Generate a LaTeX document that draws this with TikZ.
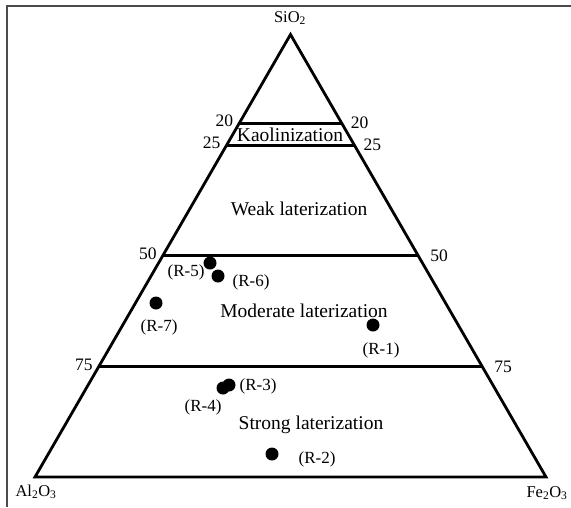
\documentclass[tikz,border=0pt]{standalone}
\usepackage{fontspec}
\setmainfont{Liberation Serif}
\usetikzlibrary{calc}

\begin{document}
\begin{tikzpicture}[x=1pt, y=-1pt,
  side/.style={line width=2.8pt, line join=miter},
  zoneline/.style={line width=3pt},
  frame/.style={line width=2pt, black!70},
  zone/.style={font=\fontsize{19.5}{20}\selectfont, inner sep=0pt},
  tick/.style={font=\fontsize{17.5}{18}\selectfont, inner sep=0pt},
  corner/.style={font=\fontsize{16.5}{17}\selectfont, inner sep=0pt},
  sample/.style={circle, fill, inner sep=0pt, minimum size=13pt},
  tag/.style={font=\fontsize{17}{17}\selectfont, inner sep=0pt}]
\useasboundingbox (0,0) rectangle (571,507);
\fill[white] (0,0) rectangle (571,507);
\draw[frame] (6.5,507) -- (6.5,6) -- (571,6);

% ternary frame
\coordinate (si) at (290.5,34.5);
\coordinate (al) at (35,477);
\coordinate (fe) at (546,477);
\draw[side] (al) -- (si) -- (fe) -- cycle;
\node[corner] (siL) at (290,18) {SiO\textsubscript{2}};
\node[corner] (alL) at (36,492) {Al\textsubscript{2}O\textsubscript{3}};
\node[corner] (feL) at (547,493) {Fe\textsubscript{2}O\textsubscript{3}};

% zone boundaries
\foreach \f/\v/\gap in {0.2/20/9, 0.25/25/9, 0.5/50/12, 0.75/75/12} {
  \coordinate (l\v) at ($(si)!\f!(al)$);
  \coordinate (r\v) at ($(si)!\f!(fe)$);
  \draw[zoneline] (l\v) -- (r\v);
  \node[tick, anchor=east, xshift=-6pt, yshift=2pt] (nl\v) at (l\v) {\v};
  \node[tick, anchor=west, xshift=\gap pt] (nr\v) at (r\v) {\v};
}

\node[zone] (kao) at (290,135) {Kaolinization};
\node[zone] (weak) at (299,209) {Weak laterization};
\node[zone] (mod) at (304,311) {Moderate laterization};
\node[zone] (strong) at (311,425) {Strong laterization};

% samples
\node[sample] (s5) at (210,263) {};
\node[sample] (s6) at (218,276) {};
\node[sample] (s7) at (156,303) {};
\node[sample] (s1) at (373,325) {};
\node[sample] (s4) at (223,388) {};
\node[sample] (s3) at (229,385) {};
\node[sample] (s2) at (272,454) {};
\node[tag] (t5) at (186,272) {(R-5)};
\node[tag] (t6) at (251,282) {(R-6)};
\node[tag] (t7) at (159,327) {(R-7)};
\node[tag] (t1) at (381,350) {(R-1)};
\node[tag] (t3) at (258,386) {(R-3)};
\node[tag] (t4) at (203,407) {(R-4)};
\node[tag] (t2) at (317,459) {(R-2)};
\end{tikzpicture}
\end{document}
